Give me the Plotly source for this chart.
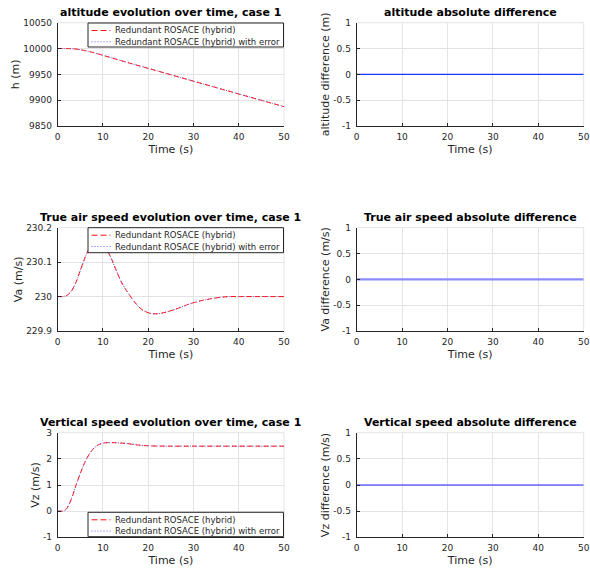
import plotly.graph_objects as go

# ---------------- data ----------------
t_h = [0, 1, 2, 3, 4, 5, 6, 7, 8, 9, 10, 12, 14, 16, 18, 20, 25, 30, 35, 40, 45, 50]
h_vals = [10000.0, 10000.0, 9999.95, 9999.7, 9999.0, 9997.8, 9996.1, 9994.1, 9991.8,
          9989.3, 9986.8, 9981.7, 9976.6, 9971.5, 9966.5, 9961.6, 9949.2, 9936.8,
          9924.4, 9912.0, 9899.7, 9887.5]

t_va = [0, 1, 2, 3, 4, 5, 6, 7, 8, 9, 10, 11, 12, 13, 14, 15, 16, 17, 18, 19, 20,
        21, 22, 23, 24, 25, 26, 27, 28, 29, 30, 32, 34, 36, 38, 40, 45, 50]
va_vals = [230.000, 230.000, 230.003, 230.015, 230.040, 230.076, 230.112, 230.140,
           230.156, 230.160, 230.152, 230.133, 230.106, 230.074, 230.044, 230.021,
           230.002, 229.984, 229.969, 229.959, 229.953, 229.950, 229.950, 229.952,
           229.955, 229.959, 229.963, 229.968, 229.973, 229.978, 229.982, 229.989,
           229.994, 229.998, 230.000, 230.000, 230.000, 230.000]

t_vz = [0, 1, 1.5, 2, 3, 4, 5, 6, 7, 8, 9, 10, 11, 12, 13, 14, 15, 16, 17, 18, 19,
        20, 22, 25, 30, 40, 50]
vz_vals = [0.0, 0.0, 0.02, 0.1, 0.45, 0.97, 1.45, 1.87, 2.19, 2.41, 2.54, 2.60, 2.62,
           2.62, 2.615, 2.605, 2.59, 2.57, 2.545, 2.525, 2.51, 2.50, 2.49, 2.485,
           2.485, 2.485, 2.485]

t_diff = [0, 10, 20, 30, 40, 50]
h_diff = [0, 0, 0, 0, 0, 0]
va_diff = [0, 0, 0, 0, 0, 0]
vz_diff = [0, 0, 0, 0, 0, 0]

series_names = ["Redundant ROSACE (hybrid)", "Redundant ROSACE (hybrid) with error"]

left_titles = ["altitude evolution over time, case 1",
               "True air speed evolution over time, case 1",
               "Vertical speed evolution over time, case 1"]
right_titles = ["altitude absolute difference",
                "True air speed absolute difference",
                "Vertical speed absolute difference"]
left_ylabels = ["h (m)", "Va (m/s)", "Vz (m/s)"]
right_ylabels = ["altitude difference (m)", "Va difference (m/s)", "Vz difference (m/s)"]

x_ticks = [0, 10, 20, 30, 40, 50]
h_ticks = [9850, 9900, 9950, 10000, 10050]
va_ticks = [229.9, 230.0, 230.1, 230.2]
va_ticktext = ["229.9", "230", "230.1", "230.2"]
vz_ticks = [-1, 0, 1, 2, 3]
vz_ticktext = ["-1", "0", "1", "2", "3"]
diff_ticks = [-1, -0.5, 0, 0.5, 1]
diff_ticktext = ["-1", "-0.5", "0", "0.5", "1"]

# ---------------- layout helpers ----------------
W, H = 590, 568
FONT = "DejaVu Sans"
TXT = "#262626"
GRID = "#e3e3e3"


def px(x):
    return x / W


def py(y):
    return 1 - y / H


left_x = (57.7, 284.0)
right_x = (356.7, 583.7)
rows_y = [(22.7, 126.0), (227.7, 331.0), (432.7, 537.3)]

fig = go.Figure()

RED = "#ff1010"
BLUE_DOT = "#5a5aff"
RED_DASH = "5px,3px"
BLUE_DASH = "1px,2px"

left_data = [(t_h, h_vals), (t_va, va_vals), (t_vz, vz_vals)]
right_data = [(t_diff, h_diff, "#1a33ff", 1.2),
              (t_diff, va_diff, "#8a8aff", 2.2),
              (t_diff, vz_diff, "#2020ff", 1.2)]

layout = dict(
    width=W, height=H,
    margin=dict(l=0, r=0, t=0, b=0),
    paper_bgcolor="white", plot_bgcolor="white",
    showlegend=False,
    font=dict(family=FONT, size=9, color=TXT),
)

yranges = [(9850, 10050), (229.9, 230.2), (-1, 3)]
yticks = [(h_ticks, [str(v) for v in h_ticks]), (va_ticks, va_ticktext), (vz_ticks, vz_ticktext)]

annotations = []
shapes = []

for r in range(3):
    li = 2 * r + 1
    ri = 2 * r + 2
    top, bot = rows_y[r]
    ydom = [py(bot), py(top)]
    for idx, xd in ((li, left_x), (ri, right_x)):
        xname = "xaxis" if idx == 1 else f"xaxis{idx}"
        yname = "yaxis" if idx == 1 else f"yaxis{idx}"
        xa = "x" if idx == 1 else f"x{idx}"
        ya = "y" if idx == 1 else f"y{idx}"
        is_left = idx == li
        layout[xname] = dict(
            domain=[px(xd[0]), px(xd[1])], anchor=ya, range=[0, 50],
            tickvals=x_ticks, ticktext=[str(v) for v in x_ticks],
            showline=True, linecolor=TXT, linewidth=1, mirror=False,
            showgrid=True, gridcolor=GRID, gridwidth=1, zeroline=False,
            ticks="inside", ticklen=3, tickcolor=TXT,
            tickfont=dict(family=FONT, size=9, color=TXT),
            ticklabelstandoff=2, ticklabeloverflow="allow",
            title=dict(text="Time (s)", font=dict(family=FONT, size=11, color=TXT), standoff=4),
            automargin=False,
        )
        if is_left:
            yr = yranges[r]
            tv, tt = yticks[r]
            ylab = left_ylabels[r]
        else:
            yr = (-1, 1)
            tv, tt = diff_ticks, diff_ticktext
            ylab = right_ylabels[r]
        layout[yname] = dict(
            domain=ydom, anchor=xa, range=list(yr),
            tickvals=tv, ticktext=tt,
            showline=True, linecolor=TXT, linewidth=1, mirror=False,
            showgrid=True, gridcolor=GRID, gridwidth=1, zeroline=False,
            ticks="inside", ticklen=3, tickcolor=TXT,
            tickfont=dict(family=FONT, size=9, color=TXT),
            ticklabelstandoff=3, ticklabeloverflow="allow",
            title=dict(text=ylab, font=dict(family=FONT, size=11, color=TXT), standoff=1),
            automargin=False,
        )
        # light box on top/right edges
        shapes.append(dict(type="line", xref=f"{xa} domain", yref=f"{ya} domain",
                           x0=0, x1=1, y0=1, y1=1, line=dict(color=GRID, width=1), layer="below"))
        shapes.append(dict(type="line", xref=f"{xa} domain", yref=f"{ya} domain",
                           x0=1, x1=1, y0=0, y1=1, line=dict(color=GRID, width=1), layer="below"))
        # subplot title
        title = left_titles[r] if is_left else right_titles[r]
        annotations.append(dict(
            text=f"<b>{title}</b>", xref="paper", yref="paper",
            x=px((xd[0] + xd[1]) / 2), y=py(top - 10.0), xanchor="center", yanchor="middle",
            showarrow=False, font=dict(family=FONT, size=11, color="black"),
        ))

    # left traces (error series underneath, nominal dashed on top)
    tx, vals = left_data[r]
    xa = "x" if li == 1 else f"x{li}"
    ya = "y" if li == 1 else f"y{li}"
    fig.add_trace(go.Scatter(x=tx, y=vals, mode="lines", name=series_names[1],
                             line=dict(color=BLUE_DOT, width=1, dash=BLUE_DASH, shape="spline", smoothing=0.6),
                             xaxis=xa, yaxis=ya))
    fig.add_trace(go.Scatter(x=tx, y=vals, mode="lines", name=series_names[0],
                             line=dict(color=RED, width=1, dash=RED_DASH, shape="spline", smoothing=0.6),
                             xaxis=xa, yaxis=ya))
    # right traces
    tx, vals, col, wd = right_data[r]
    xa = f"x{ri}"
    ya = f"y{ri}"
    fig.add_trace(go.Scatter(x=tx, y=vals, mode="lines", name="difference",
                             line=dict(color=col, width=wd), xaxis=xa, yaxis=ya))

# manual compact legends (drawn over the plot, opaque)
legend_boxes = [(23.0, 47.0), (227.7, 252.7), (512.3, 536.7)]
for (ltop, lbot) in legend_boxes:
    shapes.append(dict(type="rect", xref="paper", yref="paper",
                       x0=px(88), x1=px(283.5), y0=py(lbot), y1=py(ltop),
                       fillcolor="white", line=dict(color=TXT, width=1), layer="above"))
    e1 = ltop + 7.5
    e2 = ltop + 18.8
    for ey, col, dash, name in ((e1, RED, "6px,3px", series_names[0]),
                                (e2, BLUE_DOT, BLUE_DASH, series_names[1])):
        shapes.append(dict(type="line", xref="paper", yref="paper",
                           x0=px(91.5), x1=px(110.5), y0=py(ey), y1=py(ey),
                           line=dict(color=col, width=1, dash=dash), layer="above"))
        annotations.append(dict(text=name, xref="paper", yref="paper",
                                x=px(113), y=py(ey), xanchor="left", yanchor="middle",
                                showarrow=False,
                                font=dict(family=FONT, size=8.5, color=TXT)))

layout["annotations"] = annotations
layout["shapes"] = shapes
fig.update_layout(**layout)

fig.write_html("out.html",
               config={"displayModeBar": False},
               post_script="document.body.style.margin='0';document.body.style.overflow='hidden';")
